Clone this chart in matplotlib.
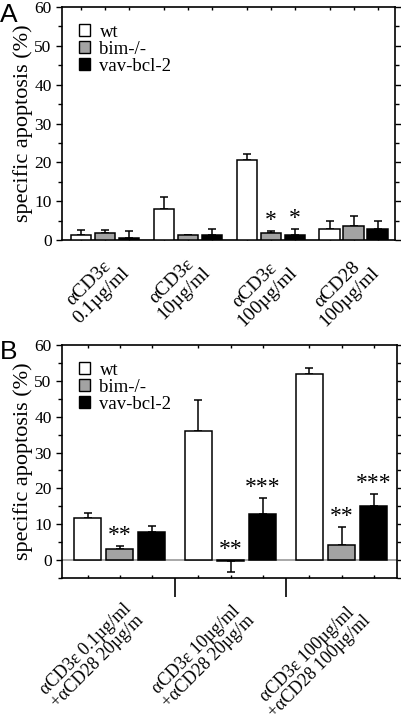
import numpy as np
import matplotlib.pyplot as plt
from matplotlib.patches import Patch
from matplotlib.ticker import MultipleLocator

plt.rcParams['font.family'] = ['Liberation Serif', 'DejaVu Serif']

series = ["wt", "bim-/-", "vav-bcl-2"]
colores = ["white", "#a3a3a3", "black"]

# Panel A: estimulo con aCD3e o aCD28 solo
grupos_a = ["αCD3ε\n0.1µg/ml", "αCD3ε\n10µg/ml", "αCD3ε\n100µg/ml", "αCD28\n100µg/ml"]
media_a = {
    "wt": [1.2, 8.0, 20.5, 2.9],
    "bim-/-": [1.7, 1.4, 1.9, 3.6],
    "vav-bcl-2": [0.6, 1.2, 1.2, 2.9],
}
sem_a = {
    "wt": [1.3, 3.0, 1.6, 2.0],
    "bim-/-": [0.8, 0.0, 0.3, 2.5],
    "vav-bcl-2": [1.7, 1.7, 1.7, 2.0],
}
signif_a = {
    "wt": ["", "", "", ""],
    "bim-/-": ["", "", "*", ""],
    "vav-bcl-2": ["", "", "*", ""],
}

# Panel B: aCD3e + aCD28
grupos_b = ["αCD3ε 0.1µg/ml\n+αCD28 20µg/m", "αCD3ε 10µg/ml\n+αCD28 20µg/m",
            "αCD3ε 100µg/ml\n+αCD28 100µg/ml"]
media_b = {
    "wt": [11.6, 36.1, 52.0],
    "bim-/-": [3.2, -0.2, 4.1],
    "vav-bcl-2": [7.9, 12.9, 15.1],
}
sem_b = {
    "wt": [1.6, 8.5, 1.7],
    "bim-/-": [0.7, 3.2, 5.0],
    "vav-bcl-2": [1.7, 4.4, 3.4],
}
signif_b = {
    "wt": ["", "", ""],
    "bim-/-": ["**", "**", "**"],
    "vav-bcl-2": ["", "***", "***"],
}

paso = 0.29
ancho = 0.245


def dibujar_panel(ax, grupos, media, sem, signif, ylim, dx_etiq, dy_etiq, tam_etiq):
    n = len(grupos)
    centros_barras = []
    for k, nombre in enumerate(series):
        x = np.arange(n) + (k - 1) * paso
        centros_barras.extend(x)
        m = np.array(media[nombre])
        s = np.array(sem[nombre])
        # barra de error solo hacia el lado del valor
        abajo = np.where(m < 0, s, 0)
        arriba = np.where(m >= 0, s, 0)
        ax.bar(x, m, ancho, color=colores[k], edgecolor="black", linewidth=1.1, zorder=3)
        ax.errorbar(x, m, yerr=[abajo, arriba], fmt="none", ecolor="black",
                    elinewidth=1.1, capsize=3, capthick=1.1, zorder=2)
        for xi, mi, si, txt in zip(x, m, s, signif[nombre]):
            if txt:
                ax.annotate(txt, xy=(xi, max(mi, 0) + (si if mi >= 0 else 0)),
                            xytext=(0, 0), textcoords="offset pixels",
                            ha="center", va="bottom", fontsize=17)
    ax.set_xlim(-0.52, n - 0.5)
    ax.set_ylim(*ylim)
    ax.yaxis.set_major_locator(MultipleLocator(10))
    ax.yaxis.set_minor_locator(MultipleLocator(5))
    ax.set_xticks(sorted(centros_barras))
    ax.set_xticklabels([])
    ax.tick_params(axis="y", which="both", direction="out", right=True, labelsize=12.5)
    ax.tick_params(axis="y", which="major", length=4, width=1)
    ax.tick_params(axis="y", which="minor", length=3, width=1)
    ax.tick_params(axis="x", which="both", top=True, direction="in", length=2.5, width=1)
    for sp in ax.spines.values():
        sp.set_linewidth(1.2)
    ax.set_ylabel("specific apoptosis (%)", fontsize=16, labelpad=1)
    for g, etiq in enumerate(grupos):
        ax.annotate(etiq, xy=(g, 0), xycoords=("data", "axes fraction"),
                    xytext=(dx_etiq, dy_etiq), textcoords="offset pixels",
                    rotation=45, ha="center", va="top", multialignment="center",
                    fontsize=tam_etiq, linespacing=1.0)
    ax.legend(handles=[Patch(facecolor=c, edgecolor="black", linewidth=1) for c in colores],
              labels=series, loc="upper left", frameon=False, fontsize=13.5,
              handlelength=0.6, handleheight=0.6, handletextpad=0.5,
              labelspacing=0.0, borderaxespad=0.5)


fig = plt.figure(figsize=(4.02, 7.21), dpi=100)
ax_a = fig.add_axes([62 / 402, 1 - 240 / 721, 333 / 402, 233 / 721])
ax_b = fig.add_axes([62 / 402, 1 - 578 / 721, 335 / 402, 233 / 721])

dibujar_panel(ax_a, grupos_a, media_a, sem_a, signif_a, (0, 60), -10, -12, 14)
dibujar_panel(ax_b, grupos_b, media_b, sem_b, signif_b, (-5, 60), -28, -22, 13)

ax_b.axhline(0, color="#9a9a9a", linewidth=1.2, zorder=1)

# separadores largos entre grupos en el panel B
sep = ax_b.secondary_xaxis("bottom")
sep.set_xticks(np.arange(len(grupos_b) - 1) + 0.5)
sep.set_xticklabels([])
sep.tick_params(direction="out", length=14, width=1.2)
sep.spines["bottom"].set_visible(False)

fig.text(0.0, 1 - 3 / 721, "A", family="Liberation Sans", fontsize=19, va="top", ha="left")
fig.text(0.0, 1 - 340 / 721, "B", family="Liberation Sans", fontsize=19, va="top", ha="left")

fig.savefig("out.png", dpi=100)
